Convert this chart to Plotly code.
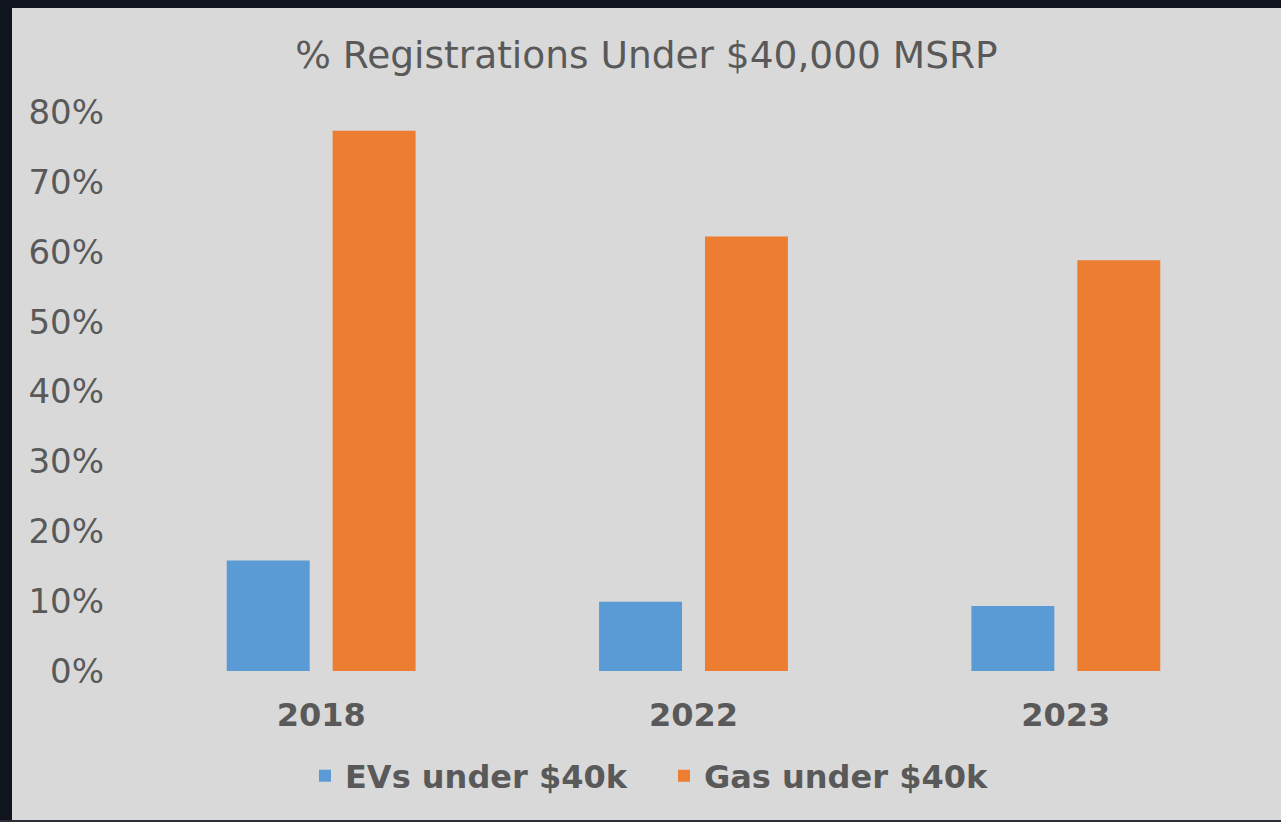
import plotly.graph_objects as go

years = ["2018", "2022", "2023"]
ev_under_40k = [0.158, 0.099, 0.093]
gas_under_40k = [0.773, 0.622, 0.588]
series_names = ["EVs under $40k", "Gas under $40k"]
tick_vals = [0, 0.1, 0.2, 0.3, 0.4, 0.5, 0.6, 0.7, 0.8]
tick_text = ["0%", "10%", "20%", "30%", "40%", "50%", "60%", "70%", "80%"]

W, H = 1281, 822
L, R, T, B = 135, 29, 112, 151
pw, ph = W - L - R, H - T - B


def px_x(p):
    return (p - L) / pw


def px_y(p):
    return (H - B - p) / ph


fig = go.Figure()
fig.add_trace(go.Bar(x=years, y=ev_under_40k, name=series_names[0],
                     marker=dict(color="#5b9bd5", line=dict(width=0))))
fig.add_trace(go.Bar(x=years, y=gas_under_40k, name=series_names[1],
                     marker=dict(color="#ed7d31", line=dict(width=0))))

dark = "#0f141d"
shapes = [
    dict(type="rect", xref="paper", yref="paper", x0=px_x(-2), x1=px_x(12),
         y0=px_y(824), y1=px_y(-2), fillcolor=dark, line=dict(width=0), layer="below"),
    dict(type="rect", xref="paper", yref="paper", x0=px_x(-2), x1=px_x(1283),
         y0=px_y(8), y1=px_y(-2), fillcolor=dark, line=dict(width=0), layer="below"),
    dict(type="rect", xref="paper", yref="paper", x0=px_x(-2), x1=px_x(1283),
         y0=px_y(824), y1=px_y(820), fillcolor="#2a2f38", line=dict(width=0), layer="below"),
]

fig.update_layout(
    width=W, height=H,
    margin=dict(l=L, r=R, t=T, b=B, pad=0),
    paper_bgcolor="#d9d9d9",
    plot_bgcolor="#d9d9d9",
    font=dict(family="DejaVu Sans", color="#595959"),
    title=dict(text="% Registrations Under $40,000 MSRP", x=646.5 / W, xanchor="center",
               y=1 - 55 / H, yanchor="middle", yref="container",
               font=dict(size=37.5, color="#595959", family="DejaVu Sans")),
    barmode="group",
    bargap=0.431,
    bargroupgap=0.217,
    showlegend=True,
    legend=dict(orientation="h", x=px_x(664), xanchor="center", y=px_y(776), yanchor="middle",
                font=dict(size=32, color="#595959", family="DejaVu Sans", weight="bold"),
                bgcolor="rgba(0,0,0,0)", traceorder="normal", entrywidth=314),
    shapes=shapes,
)
fig.update_yaxes(range=[0, 0.8], tickvals=tick_vals, ticktext=tick_text, showgrid=False,
                 zeroline=False, showline=False, ticks="", ticklabelstandoff=30,
                 tickfont=dict(size=34, color="#595959", family="DejaVu Sans"))
fig.update_xaxes(showgrid=False, zeroline=False, showline=False, ticks="", ticklabelstandoff=22,
                 tickfont=dict(size=32, color="#595959", family="DejaVu Sans", weight="bold"))

fig.write_html("out.html", config={"displayModeBar": False},
               post_script="document.body.style.margin='0';")
